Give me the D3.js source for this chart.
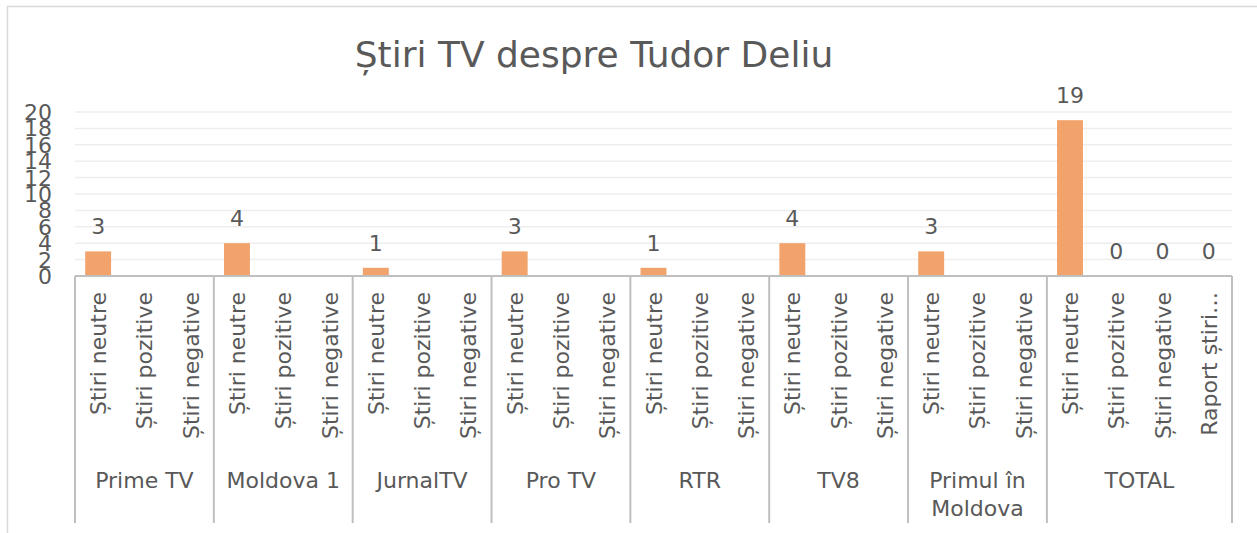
<!DOCTYPE html>
<html>
<head>
<meta charset="utf-8">
<script src="https://cdn.jsdelivr.net/npm/d3@7"></script>
<style>
  body { margin: 0; background: #fff; }
  text { font-family: "DejaVu Sans", sans-serif; fill: #595959; }
</style>
</head>
<body>
<div id="chart"></div>
<script>
// data
var channels = ["Prime TV", "Moldova 1", "JurnalTV", "Pro TV", "RTR", "TV8", "Primul în Moldova", "TOTAL"];
var newsTypes = ["Știri neutre", "Știri pozitive", "Știri negative"];
var totalTypes = ["Știri neutre", "Știri pozitive", "Știri negative", "Raport știri…"];
var neutralNews = [3, 4, 1, 3, 1, 4, 3];
var positiveNews = [null, null, null, null, null, null, null];
var negativeNews = [null, null, null, null, null, null, null];
var totalValues = [19, 0, 0, 0];
var yTicks = [0, 2, 4, 6, 8, 10, 12, 14, 16, 18, 20];

// flatten into leaf categories
var leaves = [];
channels.forEach(function (ch, i) {
    if (ch === "TOTAL") {
        totalTypes.forEach(function (t, j) {
            leaves.push({ key: ch + "|" + t, group: ch, label: t, value: totalValues[j] });
        });
    } else {
        leaves.push({ key: ch + "|0", group: ch, label: newsTypes[0], value: neutralNews[i] });
        leaves.push({ key: ch + "|1", group: ch, label: newsTypes[1], value: positiveNews[i] });
        leaves.push({ key: ch + "|2", group: ch, label: newsTypes[2], value: negativeNews[i] });
    }
});

const W = 1257, H = 533;
const plotLeft = 75, plotRight = 1232, plotTop = 112, plotBase = 276;
const fs = 22;

var svg = d3.select("#chart").append("svg")
    .attr("width", W)
    .attr("height", H);

// chart border (clipped on the right/bottom in the original)
svg.append("path")
    .attr("d", "M7.5," + H + "V6.5H" + (W + 5))
    .attr("fill", "none")
    .attr("stroke", "#d9d9d9")
    .attr("stroke-width", 1.5);

svg.append("text")
    .attr("x", 594)
    .attr("y", 67)
    .attr("text-anchor", "middle")
    .attr("font-size", 36)
    .text("Știri TV despre Tudor Deliu");

var x = d3.scaleBand()
    .domain(leaves.map(function (d) { return d.key; }))
    .range([plotLeft, plotRight])
    .padding(0);

var y = d3.scaleLinear()
    .domain([0, 20])
    .range([plotBase, plotTop]);

var barW = x.bandwidth() * 0.56;

// gridlines
svg.append("g").selectAll("line")
    .data(yTicks.filter(function (d) { return d > 0; }))
    .enter().append("line")
    .attr("x1", plotLeft).attr("x2", plotRight)
    .attr("y1", function (d) { return y(d); })
    .attr("y2", function (d) { return y(d); })
    .attr("stroke", "#eeeeee")
    .attr("stroke-width", 1.5);

// y axis labels (overlapping, as in the original)
svg.append("g").selectAll("text")
    .data(yTicks)
    .enter().append("text")
    .attr("x", 52)
    .attr("y", function (d) { return y(d); })
    .attr("dy", "0.36em")
    .attr("text-anchor", "end")
    .attr("font-size", fs)
    .text(function (d) { return d; });

// bars
svg.append("g").selectAll("rect")
    .data(leaves.filter(function (d) { return d.value > 0; }))
    .enter().append("rect")
    .attr("x", function (d) { return x(d.key) + (x.bandwidth() - barW) / 2; })
    .attr("y", function (d) { return y(d.value); })
    .attr("width", barW)
    .attr("height", function (d) { return plotBase - y(d.value); })
    .attr("fill", "#f1a36b");

// data labels
svg.append("g").selectAll("text")
    .data(leaves.filter(function (d) { return d.value !== null; }))
    .enter().append("text")
    .attr("x", function (d) { return x(d.key) + x.bandwidth() / 2; })
    .attr("y", function (d) { return y(d.value) - 17; })
    .attr("text-anchor", "middle")
    .attr("font-size", fs)
    .text(function (d) { return d.value; });

// baseline
svg.append("line")
    .attr("x1", plotLeft).attr("x2", plotRight)
    .attr("y1", plotBase).attr("y2", plotBase)
    .attr("stroke", "#bfbfbf")
    .attr("stroke-width", 2);

// group separators
var groupBounds = [];
channels.forEach(function (ch) {
    var ks = leaves.filter(function (d) { return d.group === ch; });
    groupBounds.push({
        name: ch,
        x0: x(ks[0].key),
        x1: x(ks[ks.length - 1].key) + x.bandwidth()
    });
});
var sepX = [plotLeft].concat(groupBounds.map(function (g) { return g.x1; }));
svg.append("g").selectAll("line")
    .data(sepX)
    .enter().append("line")
    .attr("x1", function (d) { return d; })
    .attr("x2", function (d) { return d; })
    .attr("y1", plotBase)
    .attr("y2", 523)
    .attr("stroke", "#bfbfbf")
    .attr("stroke-width", 2);

// leaf labels, rotated
svg.append("g").selectAll("text")
    .data(leaves)
    .enter().append("text")
    .attr("transform", function (d) {
        return "translate(" + (x(d.key) + x.bandwidth() / 2 + 8) + ",292) rotate(-90)";
    })
    .attr("text-anchor", "end")
    .attr("font-size", fs)
    .text(function (d) { return d.label; });

// group labels
var groupText = svg.append("g").selectAll("text")
    .data(groupBounds)
    .enter().append("text")
    .attr("x", function (d) { return (d.x0 + d.x1) / 2; })
    .attr("y", 488)
    .attr("text-anchor", "middle")
    .attr("font-size", fs);
groupText.each(function (d) {
    var words = d.name === "Primul în Moldova" ? ["Primul în", "Moldova"] : [d.name];
    var t = d3.select(this);
    words.forEach(function (w, i) {
        t.append("tspan")
            .attr("x", (d.x0 + d.x1) / 2)
            .attr("dy", i === 0 ? 0 : 28)
            .text(w);
    });
});
</script>
</body>
</html>
